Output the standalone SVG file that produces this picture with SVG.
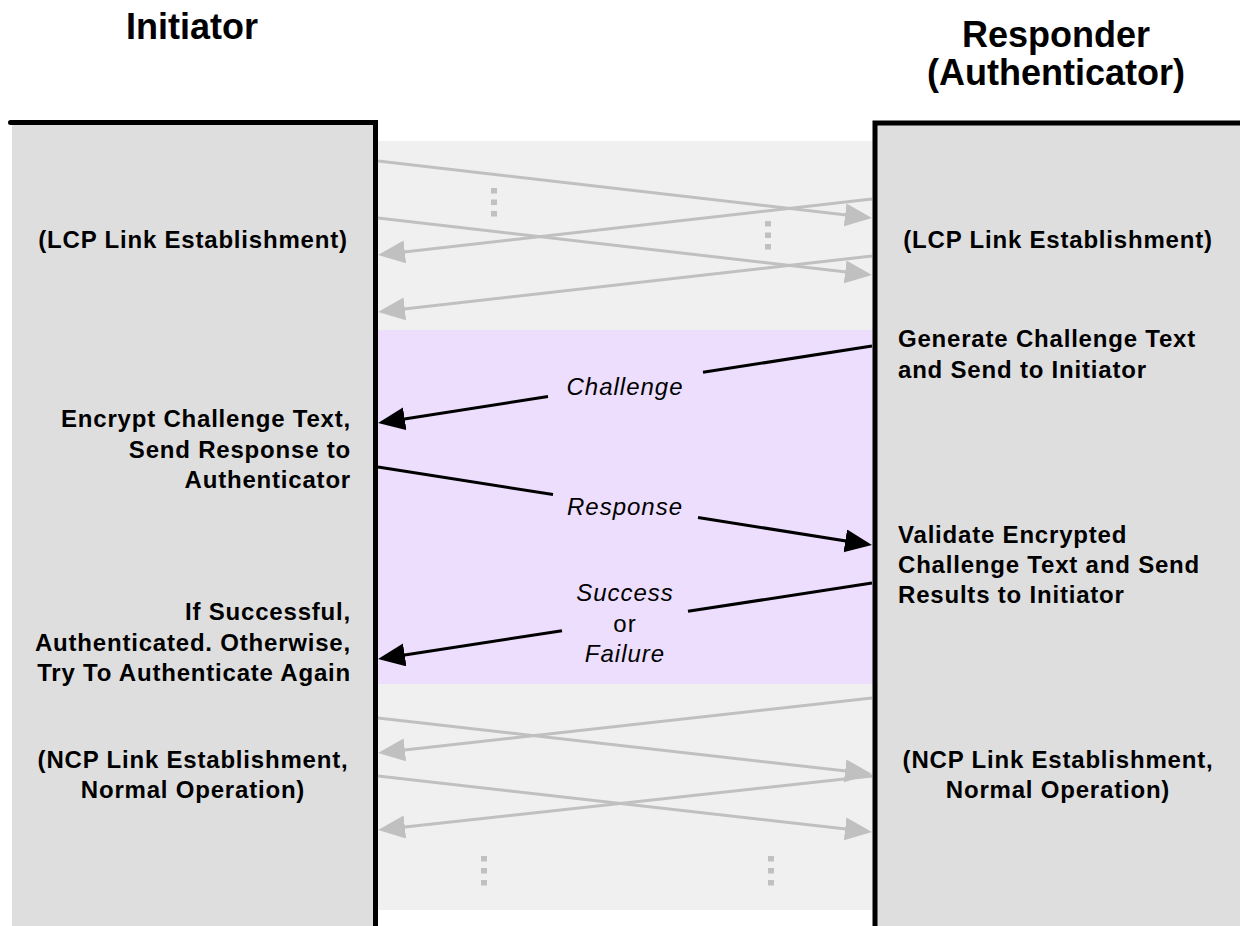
<svg xmlns="http://www.w3.org/2000/svg" width="1240" height="926" viewBox="0 0 1240 926">
<defs>
<style>
.hdr{font-family:"Liberation Sans",Arial,sans-serif;font-weight:bold;font-size:36px;fill:#000;text-anchor:middle}
.body{font-family:"Liberation Sans",Arial,sans-serif;font-weight:bold;font-size:24px;letter-spacing:0.8px;fill:#000}
.lbl{font-family:"Liberation Sans",Arial,sans-serif;font-style:italic;font-size:24px;letter-spacing:1px;fill:#000;text-anchor:middle}
.lblr{font-family:"Liberation Sans",Arial,sans-serif;font-size:24px;letter-spacing:1px;fill:#000;text-anchor:middle}
.mid{text-anchor:middle}
.end{text-anchor:end}
.col{fill:#dedede}
.edge{stroke:#000;stroke-width:5;fill:none}
.garr{stroke:#c0c0c0;stroke-width:3;fill:none;marker-end:url(#ga)}
.barr{stroke:#000;stroke-width:3;fill:none}
.barrh{stroke:#000;stroke-width:3;fill:none;marker-end:url(#ba)}
.dot{fill:#c0c0c0}
</style>
<marker id="ga" markerUnits="userSpaceOnUse" markerWidth="28" markerHeight="24" refX="23" refY="11.5" orient="auto">
<path d="M0,0 L27,11.5 L0,23 z" fill="#c0c0c0"/>
</marker>
<marker id="ba" markerUnits="userSpaceOnUse" markerWidth="28" markerHeight="24" refX="23" refY="11.5" orient="auto">
<path d="M0,0 L27,11.5 L0,23 z" fill="#000"/>
</marker>
</defs>
<rect width="1240" height="926" fill="#fff"/>

<g id="exchange-area">
<rect x="378" y="141" width="495" height="769" fill="#f0f0f0"/>
<rect x="378" y="330" width="495" height="354" fill="#ecdefc"/>
</g>

<g id="initiator">
<rect class="col" x="12" y="123" width="364" height="803"/>
<path class="edge" d="M10.5,122.5 H375.5 V926" stroke-linecap="round"/>
<text class="hdr" x="192" y="39">Initiator</text>
<text class="body mid" x="193" y="248">(LCP Link Establishment)</text>
<text class="body end" x="351" y="427">Encrypt Challenge Text,</text>
<text class="body end" x="351" y="458">Send Response to</text>
<text class="body end" x="351" y="488">Authenticator</text>
<text class="body end" x="351" y="620">If Successful,</text>
<text class="body end" x="351" y="651">Authenticated. Otherwise,</text>
<text class="body end" x="351" y="681">Try To Authenticate Again</text>
<text class="body mid" x="193" y="768">(NCP Link Establishment,</text>
<text class="body mid" x="193" y="798">Normal Operation)</text>
</g>

<g id="responder">
<rect class="col" x="877" y="123" width="363" height="803"/>
<path class="edge" d="M875,926 V123 H1240"/>
<text class="hdr" x="1056" y="47">Responder</text>
<text class="hdr" x="1056" y="85">(Authenticator)</text>
<text class="body mid" x="1058" y="248">(LCP Link Establishment)</text>
<text class="body" x="898" y="347">Generate Challenge Text</text>
<text class="body" x="898" y="378">and Send to Initiator</text>
<text class="body" x="898" y="543">Validate Encrypted</text>
<text class="body" x="898" y="573">Challenge Text and Send</text>
<text class="body" x="898" y="603">Results to Initiator</text>
<text class="body mid" x="1058" y="768">(NCP Link Establishment,</text>
<text class="body mid" x="1058" y="798">Normal Operation)</text>
</g>

<g id="connectors">
<line class="garr" x1="378" y1="161" x2="868" y2="217.5"/>
<line class="garr" x1="872" y1="199" x2="382" y2="254.5"/>
<line class="garr" x1="378" y1="218" x2="868" y2="274.5"/>
<line class="garr" x1="872" y1="256" x2="382" y2="311.5"/>
<rect class="dot" x="491" y="188" width="6" height="5.5"/>
<rect class="dot" x="491" y="199.5" width="6" height="5.5"/>
<rect class="dot" x="491" y="211" width="6" height="5.5"/>
<rect class="dot" x="765" y="221" width="6" height="5.5"/>
<rect class="dot" x="765" y="232.5" width="6" height="5.5"/>
<rect class="dot" x="765" y="244" width="6" height="5.5"/>

<line class="barr" x1="872" y1="346" x2="703" y2="372.3"/>
<line class="barrh" x1="548" y1="396.5" x2="382" y2="422.4"/>
<text class="lbl" x="625" y="395">Challenge</text>

<line class="barr" x1="378" y1="467" x2="553" y2="494.6"/>
<line class="barrh" x1="698" y1="517.5" x2="868" y2="544.4"/>
<text class="lbl" x="625" y="515">Response</text>

<line class="barr" x1="872" y1="583" x2="688" y2="611.3"/>
<line class="barrh" x1="562" y1="630.7" x2="382" y2="658.4"/>
<text class="lbl" x="625" y="601">Success</text>
<text class="lblr" x="625" y="632">or</text>
<text class="lbl" x="625" y="662">Failure</text>

<line class="garr" x1="872" y1="698" x2="382" y2="752.5"/>
<line class="garr" x1="378" y1="718" x2="868" y2="773.5"/>
<line class="garr" x1="378" y1="776" x2="868" y2="831.5"/>
<line class="garr" x1="872" y1="776" x2="382" y2="829.5"/>
<rect class="dot" x="481" y="856" width="6" height="5.5"/>
<rect class="dot" x="481" y="868" width="6" height="5.5"/>
<rect class="dot" x="481" y="880" width="6" height="5.5"/>
<rect class="dot" x="768" y="856" width="6" height="5.5"/>
<rect class="dot" x="768" y="868" width="6" height="5.5"/>
<rect class="dot" x="768" y="880" width="6" height="5.5"/>
</g>
</svg>
